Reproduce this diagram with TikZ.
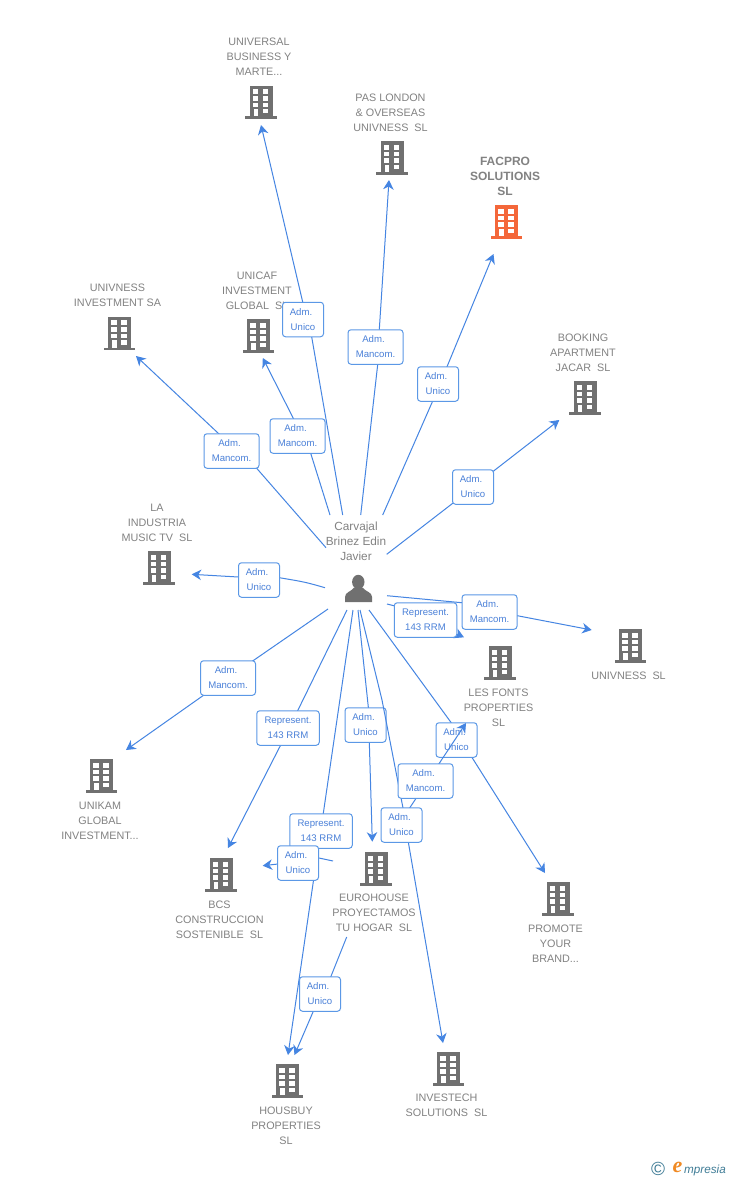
\documentclass[tikz,border=0pt]{standalone}
\usepackage{fontspec}
\setmainfont{Liberation Sans}
\newfontfamily\serifit{Liberation Serif}
\usetikzlibrary{arrows.meta}
\definecolor{linkblue}{HTML}{4585E2}
\definecolor{boxblue}{HTML}{5B98E6}
\definecolor{lbltext}{HTML}{4A80D8}
\definecolor{greytext}{HTML}{828282}
\definecolor{icongrey}{HTML}{707070}
\definecolor{iconorange}{HTML}{F4673A}
\definecolor{logoteal}{HTML}{3F7C96}
\definecolor{logoorange}{HTML}{F08A24}
\newcommand{\admw}{Adm.\hspace*{4pt}}
\tikzset{
  pics/bld/.style={code={
    \fill[#1] (-11.5,-16.8) rectangle (11.5,14);
    \fill[#1] (-15.7,14) rectangle (15.7,16.6);
    \foreach \wy in {-13.2,-6.5,0.2}{
      \fill[white] (-8.3,\wy) rectangle (-2.7,\wy+4.7);
      \fill[white] (1.7,\wy) rectangle (7.3,\wy+4.7);
    }
    \fill[white] (1.7,6.8) rectangle (7.3,11);
    \fill[white] (-7.3,6.8) rectangle (-2.9,14);
  }},
  iconbox/.style={minimum width=31pt,minimum height=34pt,inner sep=0pt},
  entlabel/.style={text=greytext,align=center,inner sep=0pt,font=\fontsize{10.8}{15}\selectfont},
  edge/.style={draw=linkblue,line width=1pt},
  tip/.style={edge,-{Stealth[length=9.5pt,width=10.5pt,inset=3pt]}},
  lbl/.style={draw=boxblue,line width=1pt,fill=white,rounded corners=3pt,text=lbltext,align=center,
    inner sep=0pt,minimum height=34.5pt,minimum width=41pt,font=\fontsize{9.6}{15}\selectfont,
    execute at begin node={\rule{0pt}{8.5pt}}},
  lblm/.style={lbl,minimum width=55pt},
  lblr/.style={lbl,minimum width=62.5pt},
}
\newcommand{\entity}[7][icongrey]{%
  \node[iconbox] (#2) at (#3,#4) {};
  \pic at (#2.center) {bld=#1};
  \node[entlabel] (#2-t) at (#5,#6) {#7};
}
\begin{document}
\begin{tikzpicture}[x=1pt,y=-1pt]
\useasboundingbox (0,0) rectangle (728,1180);
\fill[white] (0,0) rectangle (728,1180);

% entities
\entity{uni}{261}{102.5}{259}{56.5}{UNIVERSAL\\BUSINESS Y\\MARTE...}
\entity{pas}{392}{158}{390.5}{112.5}{PAS LONDON\\\&~OVERSEAS\\UNIVNESS~~SL}
\entity[iconorange]{fac}{506.5}{222}{505}{176}{\fontsize{12}{15}\selectfont\textbf{FACPRO}\\\fontsize{12}{15}\selectfont\textbf{SOLUTIONS}\\\fontsize{12}{15}\selectfont\textbf{SL}}
\entity{uinv}{119.5}{333.5}{117.5}{295.5}{UNIVNESS\\INVESTMENT SA}
\entity{ucaf}{258.5}{336}{257}{290.5}{UNICAF\\INVESTMENT\\GLOBAL~~SL}
\entity{book}{585}{398}{583}{352.5}{BOOKING\\APARTMENT\\JACAR~~SL}
\entity{lain}{159}{568}{157}{522.5}{LA\\INDUSTRIA\\MUSIC TV~~SL}
\entity{font}{500}{663}{498.5}{707.5}{LES FONTS\\PROPERTIES\\SL}
\entity{usl}{630.5}{646}{628.5}{675.5}{UNIVNESS~~SL}
\entity{ukam}{101.5}{776}{100}{820.5}{UNIKAM\\GLOBAL\\INVESTMENT...}
\entity{bcs}{221}{875}{219.5}{919.5}{BCS\\CONSTRUCCION\\SOSTENIBLE~~SL}
\entity{euro}{376}{869}{374}{912.5}{EUROHOUSE\\PROYECTAMOS\\TU HOGAR~~SL}
\entity{prom}{558}{899}{555.5}{943.5}{PROMOTE\\YOUR\\BRAND...}
\entity{hous}{287.5}{1081}{286}{1125.5}{HOUSBUY\\PROPERTIES\\SL}
\entity{inve}{448.5}{1069}{446.5}{1105.5}{INVESTECH\\SOLUTIONS~~SL}

% person
\node[minimum width=30pt,minimum height=30pt,inner sep=0pt] (per) at (358,590) {};
\fill[icongrey] (358.3,582) ellipse (6.2pt and 7.2pt);
\fill[icongrey] (345,602) -- (345,597) .. controls (345,592) and (351,592) .. (354,587.5)
  -- (362.5,587.5) .. controls (366,592) and (372,592) .. (372,597) -- (372,602) -- cycle;
\node[entlabel,font=\fontsize{11.8}{15}\selectfont] (per-t) at (356,541) {Carvajal\\Brinez Edin\\Javier};

% connectors and their labels
\coordinate (l1) at (303,319.5);
\draw[edge] ([shift={(-15.3,-75)}]per.center) -- ([shift={(8.7,17.5)}]l1) -- ([shift={(-0.3,-17.5)}]l1);
\draw[tip] ([shift={(-0.3,-17.5)}]l1) -- ([shift={(0,22.5)}]uni.center);
\node[lbl] (n1) at (l1) {\admw\\Unico};

\coordinate (l2) at (375.5,347);
\draw[edge] ([shift={(2.7,-75)}]per.center) -- ([shift={(2.2,17.5)}]l2) -- ([shift={(3.8,-17.5)}]l2);
\draw[tip] ([shift={(3.8,-17.5)}]l2) -- ([shift={(-3,22)}]pas.center);
\node[lblm] (n2) at (l2) {\admw\\Mancom.};

\coordinate (l3) at (438,384);
\draw[edge] ([shift={(24.7,-75)}]per.center) -- ([shift={(-5.3,17)}]l3) -- ([shift={(9.3,-18)}]l3);
\draw[tip] ([shift={(9.3,-18)}]l3) -- ([shift={(-13,32)}]fac.center);
\node[lbl] (n3) at (l3) {\admw\\Unico};

\coordinate (l4) at (231.5,451);
\draw[edge] ([shift={(-32,-42.3)}]per.center) -- ([shift={(25.2,17.3)}]l4) -- ([shift={(-13.2,-17.7)}]l4);
\draw[tip] ([shift={(-13.2,-17.7)}]l4) -- ([shift={(16.5,22.5)}]uinv.center);
\node[lblm] (n4) at (l4) {\admw\\Mancom.};

\coordinate (l5) at (297.5,436);
\draw[edge] ([shift={(-28,-75)}]per.center) -- ([shift={(13.2,17.3)}]l5) -- ([shift={(-4.2,-17.7)}]l5);
\draw[tip] ([shift={(-4.2,-17.7)}]l5) -- ([shift={(4.3,22)}]ucaf.center);
\node[lblm] (n5) at (l5) {\admw\\Mancom.};

\coordinate (l6) at (473,487);
\draw[edge] ([shift={(28.7,-35.7)}]per.center) -- ([shift={(-20.3,16.3)}]l6) -- ([shift={(21,-16.3)}]l6);
\draw[tip] ([shift={(21,-16.3)}]l6) -- ([shift={(-25.7,22)}]book.center);
\node[lbl] (n6) at (l6) {\admw\\Unico};

\coordinate (l7) at (259,580);
\draw[edge] ([shift={(-33,-2.3)}]per.center) .. controls (305,582) .. ([shift={(20.3,-2.3)}]l7) -- ([shift={(-20.7,-3)}]l7);
\draw[tip] ([shift={(-20.7,-3)}]l7) -- ([shift={(32.7,6.3)}]lain.center);
\node[lbl] (n7) at (l7) {\admw\\Unico};

\coordinate (l8) at (228,678);
\draw[edge] ([shift={(-30,19)}]per.center) -- (l8);
\draw[tip] (l8) -- ([shift={(24.5,-26)}]ukam.center);
\node[lblm] (n8) at (l8) {\admw\\Mancom.};

\coordinate (l9a) at (461.7,602.7);
\coordinate (l9b) at (517.3,615.7);
\draw[edge] ([shift={(29,5.7)}]per.center) -- (l9a) -- (l9b);
\draw[tip] (l9b) -- ([shift={(-38.8,-16)}]usl.center);
\node[lblm] (n9) at (489.5,612) {\admw\\Mancom.};

\coordinate (l10) at (395,606);
\draw[tip] ([shift={(29,14)}]per.center) -- (l10) -- ([shift={(-36,-25.7)}]font.center);
\node[lblr] (n10) at (425.5,620) {Represent.\\143 RRM};

\coordinate (l11) at (288,728);
\draw[edge] ([shift={(-11,20)}]per.center) -- ([shift={(10,-18)}]l11) -- ([shift={(-7.3,17)}]l11);
\draw[tip] ([shift={(-7.3,17)}]l11) -- ([shift={(7,-27)}]bcs.center);
\node[lblr] (n11) at (l11) {Represent.\\143 RRM};

\coordinate (l12) at (365.5,725);
\draw[edge] ([shift={(0,20)}]per.center) -- ([shift={(2.8,-18)}]l12) -- ([shift={(3.8,17)}]l12);
\draw[tip] ([shift={(3.8,17)}]l12) -- ([shift={(-3.7,-27.3)}]euro.center);
\node[lbl] (n12) at (l12) {\admw\\Unico};

\coordinate (l13) at (456.5,740);
\draw[edge] ([shift={(11,20)}]per.center) -- ([shift={(-5.8,-18)}]l13) -- ([shift={(15.2,17)}]l13);
\draw[tip] ([shift={(15.2,17)}]l13) -- ([shift={(-13,-26)}]prom.center);
\node[lbl] (n13) at (l13) {\admw\\Unico};

\coordinate (l14a) at (403,808);
\coordinate (l14b) at (408.3,842);
\draw[edge] ([shift={(2,20)}]per.center) -- (382,700) -- (l14a) -- (l14b);
\draw[tip] (l14b) -- ([shift={(-5.5,-26)}]inve.center);
\draw[tip] ([shift={(29,-54)}]euro.center) -- ([shift={(-34,60)}]font.center);
\node[lblm] (n14) at (425.5,781) {\admw\\Mancom.};
\node[lbl] (n15) at (401.5,825) {\admw\\Unico};

\coordinate (l16) at (321,831);
\draw[tip] ([shift={(-5,20)}]per.center) -- ([shift={(0.5,-26)}]hous.center);
\node[lblr] (n16) at (l16) {Represent.\\143 RRM};

\coordinate (l17a) at (319,858);
\coordinate (l17b) at (278,864);
\draw[edge] ([shift={(-43,-8)}]euro.center) -- (l17a) -- (l17b);
\draw[tip] (l17b) -- ([shift={(41.7,-9.3)}]bcs.center);
\node[lbl] (n17) at (298,863) {\admw\\Unico};

\coordinate (l18) at (320,994);
\coordinate (l18a) at (330.7,977);
\coordinate (l18b) at (313,1012);
\draw[edge] ([shift={(-29.3,68)}]euro.center) -- (l18a) -- (l18b);
\draw[tip] (l18b) -- ([shift={(7,-26)}]hous.center);
\node[lbl] (n18) at (l18) {\admw\\Unico};

% logo
\node[text=logoteal,font=\fontsize{19}{19}\selectfont,inner sep=0pt] (copy) at (658,1169) {©};
\node[text=logoorange,font=\fontsize{22}{22}\serifit\itshape\bfseries,inner sep=0pt] (logoe) at (677.5,1167.5) {e};
\node[text=logoteal,font=\fontsize{11.7}{14}\selectfont\itshape,inner sep=0pt,anchor=west] (logot) at (684,1170) {mpresia};
\end{tikzpicture}
\end{document}
